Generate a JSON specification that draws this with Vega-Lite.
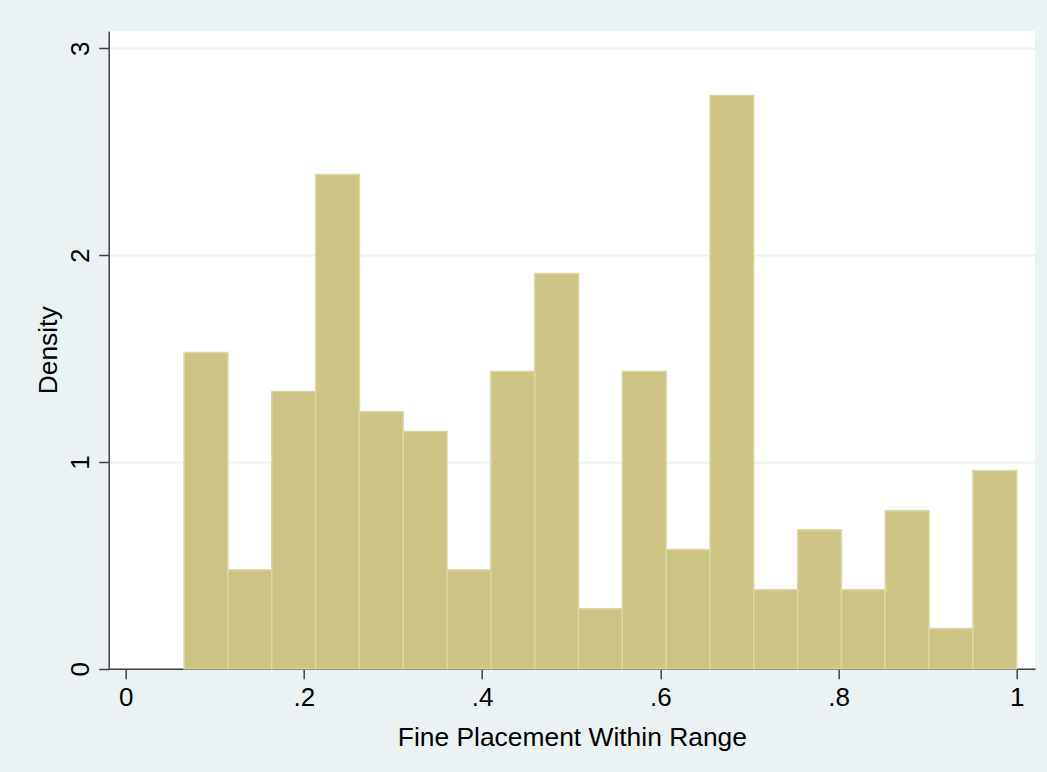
{
  "$schema": "https://vega.github.io/schema/vega-lite/v6.json",
  "width": 926.3,
  "height": 637.7,
  "autosize": {"type": "none"},
  "padding": {"left": 108.7, "top": 31, "right": 12, "bottom": 103.3},
  "background": "#eaf2f3",
  "config": {
    "view": {"fill": "white", "stroke": null},
    "font": "Liberation Sans",
    "axis": {
      "labelFont": "Liberation Sans",
      "titleFont": "Liberation Sans",
      "labelFontSize": 26,
      "titleFontSize": 26.4,
      "titleFontWeight": "normal",
      "labelColor": "black",
      "titleColor": "black",
      "domainColor": "#404040",
      "domainWidth": 1.5,
      "tickColor": "#404040",
      "tickWidth": 1.5,
      "tickSize": 10
    }
  },
  "data": {
    "values": [
      {"start": 0.0655, "end": 0.1147, "density": 1.529},
      {"start": 0.1147, "end": 0.1639, "density": 0.479},
      {"start": 0.1639, "end": 0.2131, "density": 1.340},
      {"start": 0.2131, "end": 0.2623, "density": 2.390},
      {"start": 0.2623, "end": 0.3114, "density": 1.243},
      {"start": 0.3114, "end": 0.3606, "density": 1.147},
      {"start": 0.3606, "end": 0.4098, "density": 0.479},
      {"start": 0.4098, "end": 0.4590, "density": 1.437},
      {"start": 0.4590, "end": 0.5082, "density": 1.911},
      {"start": 0.5082, "end": 0.5573, "density": 0.290},
      {"start": 0.5573, "end": 0.6065, "density": 1.437},
      {"start": 0.6065, "end": 0.6557, "density": 0.576},
      {"start": 0.6557, "end": 0.7049, "density": 2.772},
      {"start": 0.7049, "end": 0.7541, "density": 0.382},
      {"start": 0.7541, "end": 0.8033, "density": 0.672},
      {"start": 0.8033, "end": 0.8524, "density": 0.382},
      {"start": 0.8524, "end": 0.9016, "density": 0.764},
      {"start": 0.9016, "end": 0.9508, "density": 0.194},
      {"start": 0.9508, "end": 1.0, "density": 0.958}
    ]
  },
  "mark": {"type": "rect", "fill": "#ccc384", "stroke": "#dcd7a6", "strokeWidth": 1.5},
  "encoding": {
    "x": {
      "field": "start",
      "type": "quantitative",
      "scale": {"domain": [-0.0191, 1.0205], "nice": false, "zero": false},
      "axis": {
        "title": "Fine Placement Within Range",
        "values": [0, 0.2, 0.4, 0.6, 0.8, 1],
        "labelExpr": "datum.value == 0 ? '0' : datum.value == 1 ? '1' : replace(format(datum.value, '.1f'), '0.', '.')",
        "grid": false,
        "labelBaseline": "alphabetic",
        "labelPadding": 27,
        "labelFlush": false,
        "titleBaseline": "alphabetic",
        "titleY": 76.3
      }
    },
    "x2": {"field": "end"},
    "y": {
      "field": "density",
      "type": "quantitative",
      "scale": {"domain": [0, 3.084], "nice": false},
      "axis": {
        "title": "Density",
        "values": [0, 1, 2, 3],
        "labelAngle": -90,
        "labelAlign": "center",
        "labelBaseline": "alphabetic",
        "labelPadding": 10.4,
        "labelFlush": false,
        "grid": true,
        "gridColor": "#eaf2f3",
        "gridWidth": 2,
        "titleAngle": -90,
        "titleBaseline": "alphabetic",
        "titleAlign": "center",
        "titleX": -51.7,
        "titleY": 318.85
      }
    },
    "y2": {"datum": 0}
  }
}
